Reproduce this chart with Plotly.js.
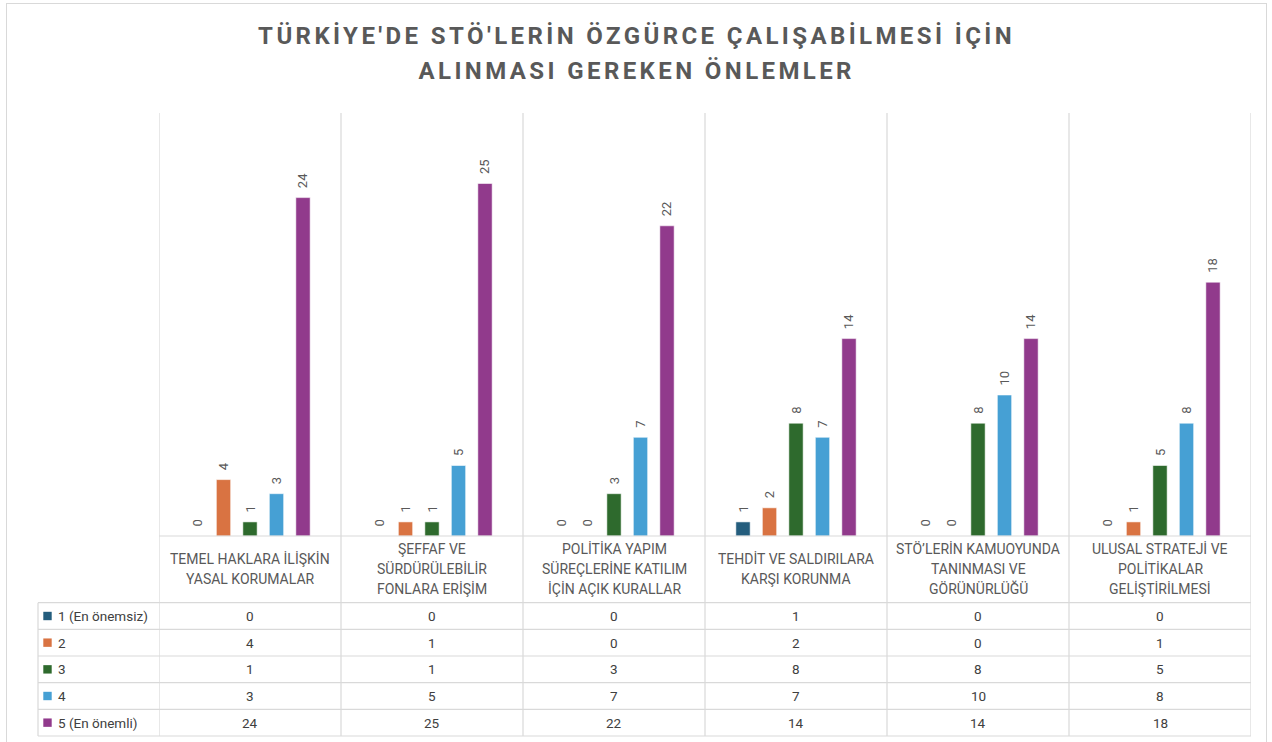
<!DOCTYPE html>
<html>
<head>
<meta charset="utf-8">
<script src="https://cdn.plot.ly/plotly-3.0.1.min.js"></script>
<style>
  html, body { margin: 0; padding: 0; background: #ffffff; }
  #wrap { position: relative; width: 1272px; height: 742px; overflow: hidden; }
  #chart { width: 1272px; height: 742px; }
  #frame { position: absolute; left: 6px; top: 3px; width: 1259px; height: 760px;
           border: 1.5px solid #d9d9d9; pointer-events: none; }
  .annotation[data-index="0"] text, .annotation[data-index="1"] text { letter-spacing: 3.4px; }
</style>
</head>
<body>
<div id="wrap">
  <div id="chart"></div>
  <div id="frame"></div>
</div>
<script>
// ---- data ----
const categories = [
  "TEMEL HAKLARA İLİŞKİN<br>YASAL KORUMALAR",
  "ŞEFFAF VE<br>SÜRDÜRÜLEBİLİR<br>FONLARA ERİŞİM",
  "POLİTİKA YAPIM<br>SÜREÇLERİNE KATILIM<br>İÇİN AÇIK KURALLAR",
  "TEHDİT VE SALDIRILARA<br>KARŞI KORUNMA",
  "STÖ’LERİN KAMUOYUNDA<br>TANINMASI VE<br>GÖRÜNÜRLÜĞÜ",
  "ULUSAL STRATEJİ VE<br>POLİTİKALAR<br>GELİŞTİRİLMESİ"
];
const seriesNames = ["1 (En önemsiz)", "2", "3", "4", "5 (En önemli)"];
const s1 = [0, 0, 0, 1, 0, 0];
const s2 = [4, 1, 0, 2, 0, 1];
const s3 = [1, 1, 3, 8, 8, 5];
const s4 = [3, 5, 7, 7, 10, 8];
const s5 = [24, 25, 22, 14, 14, 18];
const seriesValues = [s1, s2, s3, s4, s5];
const seriesColors = ["#245D7D", "#D97342", "#2E6A2D", "#46A0D4", "#913A8C"];
const titleLines = ["TÜRKİYE'DE STÖ'LERİN ÖZGÜRCE ÇALIŞABİLMESİ İÇİN", "ALINMASI GEREKEN ÖNLEMLER"];

// ---- geometry helpers (pixel -> paper) ----
const W = 1272, H = 742;
const L = 159, R = 21, T = 113, B = 206;
const PW = W - L - R, PH = H - T - B;
const px = x => (x - L) / PW;
const py = y => ((H - B) - y) / PH;

const gridColor = "#d9d9d9";
const textColor = "#595959";
const tableText = "#404040";
const FONT = "Roboto, 'Open Sans', sans-serif";

const traces = seriesValues.map((vals, k) => ({
  type: "bar",
  name: seriesNames[k],
  x: categories.map((c, i) => i),
  y: vals,
  marker: { color: seriesColors[k], line: { color: "rgba(255,255,255,0.55)", width: 1 } },
  text: vals.map(v => String(v)),
  texttemplate: "\u00a0\u00a0%{text}",
  textposition: "outside",
  textangle: -90,
  constraintext: "none",
  cliponaxis: false,
  textfont: { family: FONT, size: 13, color: textColor },
  hoverinfo: "skip",
  showlegend: false
}));

const shapes = [];
const annotations = [];

// title (two centred lines)
const titleY = [36, 70.5];
titleLines.forEach((t, j) => {
  annotations.push({
    xref: "paper", yref: "paper", x: px(W / 2), y: py(titleY[j]),
    text: t, showarrow: false, xanchor: "center", yanchor: "middle",
    font: { family: FONT, size: 24, color: textColor, weight: 700 }
  });
});

// vertical grid lines at category boundaries, through the table
for (let i = 0; i <= categories.length; i++) {
  shapes.push({
    type: "line", xref: "x", yref: "paper",
    x0: i - 0.5, x1: i - 0.5, y0: py(736), y1: 1,
    line: { color: gridColor, width: 1.2 }
  });
}
// baseline
shapes.push({
  type: "line", xref: "paper", yref: "paper",
  x0: 0, x1: 1, y0: 0, y1: 0,
  line: { color: gridColor, width: 1.2 }
});
// table rows
const rowTops = [602.7, 629.3, 656, 682.7, 709.3, 736];
rowTops.forEach(y => {
  shapes.push({
    type: "line", xref: "paper", yref: "paper",
    x0: px(38), x1: 1, y0: py(y), y1: py(y),
    line: { color: gridColor, width: 1.2 }
  });
});
// left border of table
shapes.push({
  type: "line", xref: "paper", yref: "paper",
  x0: px(38), x1: px(38), y0: py(736), y1: py(602.7),
  line: { color: gridColor, width: 1.2 }
});

// category labels (one annotation per line for Excel-like line spacing)
categories.forEach((c, i) => {
  const lines = c.split("<br>");
  const n = lines.length;
  lines.forEach((ln, j) => {
    annotations.push({
      xref: "x", yref: "paper", x: i, y: py(568.5 + (j - (n - 1) / 2) * 20),
      text: ln, showarrow: false, xanchor: "center", yanchor: "middle",
      font: { family: FONT, size: 14, color: textColor }, align: "center"
    });
  });
});

// table rows: legend keys + values
seriesNames.forEach((name, k) => {
  const top = rowTops[k], bot = rowTops[k + 1];
  const cy = (top + bot) / 2;
  shapes.push({
    type: "rect", xref: "paper", yref: "paper",
    x0: px(43.3), x1: px(51.7), y0: py(cy + 4.2), y1: py(cy - 4.2),
    line: { width: 0 }, fillcolor: seriesColors[k]
  });
  annotations.push({
    xref: "paper", yref: "paper", x: px(56), y: py(cy),
    text: name, showarrow: false, xanchor: "left", yanchor: "middle",
    font: { family: FONT, size: 13.5, color: tableText }
  });
  seriesValues[k].forEach((v, i) => {
    annotations.push({
      xref: "x", yref: "paper", x: i, y: py(cy),
      text: String(v), showarrow: false, xanchor: "center", yanchor: "middle",
      font: { family: FONT, size: 13.5, color: tableText }
    });
  });
});

const layout = {
  width: W, height: H,
  margin: { l: L, r: R, t: T, b: B, pad: 0 },
  paper_bgcolor: "#ffffff",
  plot_bgcolor: "#ffffff",
  barmode: "group",
  bargap: 0.272,
  bargroupgap: 0.46,
  xaxis: {
    type: "linear", range: [-0.5, categories.length - 0.5],
    showgrid: false, zeroline: false, showticklabels: false, ticks: "", showline: false,
    fixedrange: true
  },
  yaxis: {
    range: [0, 30], showgrid: false, zeroline: false, showticklabels: false,
    ticks: "", showline: false, fixedrange: true
  },
  shapes: shapes,
  annotations: annotations,
  showlegend: false,
  font: { family: FONT, color: textColor }
};

Plotly.newPlot("chart", traces, layout, { displayModeBar: false, staticPlot: true });
</script>
</body>
</html>
